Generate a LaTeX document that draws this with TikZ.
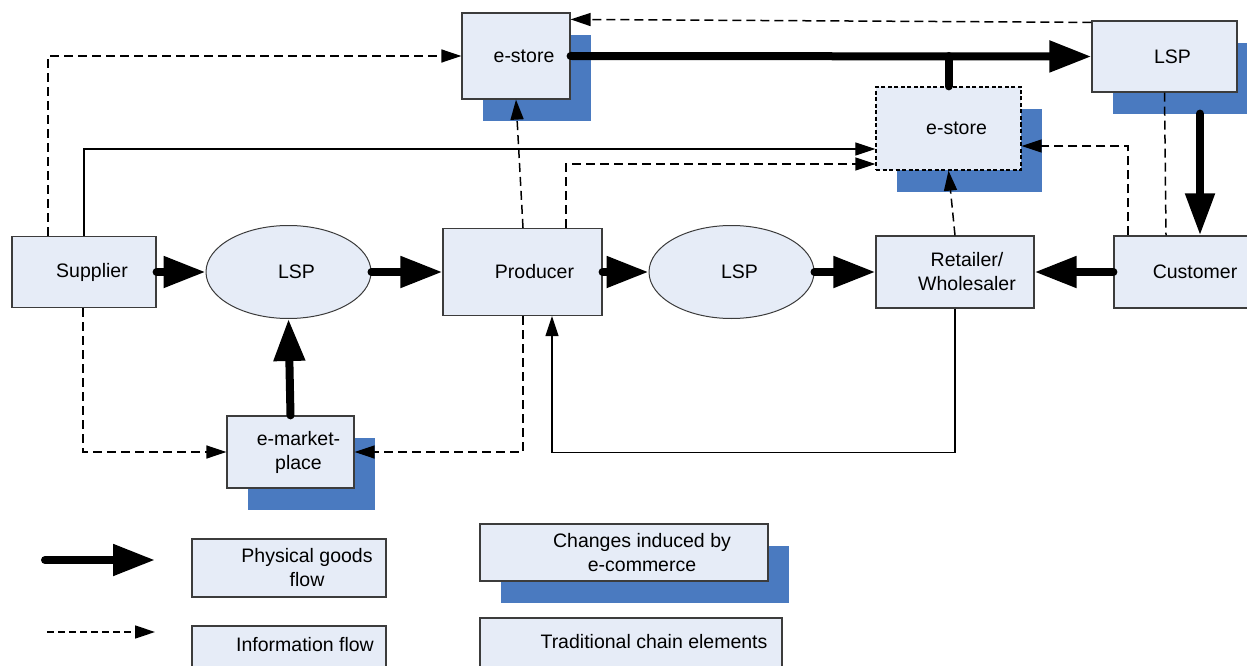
\documentclass[tikz,border=0pt]{standalone}
\usepackage{fontspec}
\setmainfont{Liberation Sans}
\usetikzlibrary{arrows.meta,shapes.geometric,shadows,calc}
\definecolor{boxfill}{RGB}{230,236,247}
\definecolor{shadowblue}{RGB}{74,122,192}
\definecolor{boxline}{RGB}{60,60,60}
\begin{document}
\begin{tikzpicture}[x=1pt,y=-1pt,
  every node/.style={font=\fontsize{19.5pt}{24pt}\selectfont},
  box/.style={draw=boxline, fill=boxfill, line width=1.2pt, inner sep=0pt},
  sz/.style 2 args={minimum width=#1pt, minimum height=#2pt},
  shad/.style={general shadow={fill=shadowblue, shadow xshift=21pt, shadow yshift=-22pt}},
  oval/.style={ellipse, draw=boxline, fill=boxfill, line width=1pt, inner sep=0pt},
  txt/.style={label={[align=center, xshift=8pt]center:#1}},
  phys/.style={line width=8pt, line cap=round, -{Triangle[length=42pt,width=30pt]}},
  physline/.style={line width=8pt, line cap=round},
  info/.style={line width=1.5pt, dash pattern=on 9pt off 5pt, -{Triangle[length=20pt,width=13pt]}},
  infoline/.style={line width=1.5pt, dash pattern=on 9pt off 5pt},
  thinarr/.style={line width=1.2pt, -{Triangle[length=20pt,width=13pt]}}
]
\useasboundingbox (0,0) rectangle (1247,666);
% ---- nodes
\node[box,shad,sz={108}{86},txt=e-store] (es1) at (516,56) {};
\node[box,shad,sz={145}{71},txt=LSP] (lspR) at (1164.5,56.5) {};
\node[box,shad,sz={145}{83},dash pattern=on 4pt off 2.5pt,line width=1.3pt,draw=black,txt=e-store] (es2) at (948.5,128.5) {};
\node[box,sz={144}{71},txt=Supplier] (sup) at (84,272) {};
\node[oval,sz={165}{93},txt=LSP] (lsp1) at (288.5,272) {};
\node[box,sz={159}{87},label={[xshift=12pt]center:Producer}] (prod) at (522.5,272) {};
\node[oval,sz={165}{93},txt=LSP] (lsp2) at (731.5,272) {};
\node[box,sz={158}{72},label={[align=center,xshift=12pt]center:Retailer/\\Wholesaler}] (ret) at (955,272) {};
\node[box,sz={146}{72},txt=Customer] (cust) at (1187,272) {};
\node[box,shad,sz={127}{72},txt={e-market-\\place}] (emkt) at (290.5,452) {};
% ---- legend
\node[box,sz={194}{58},label={[align=center,xshift=18pt]center:Physical goods\\flow}] (lgP) at (289,568) {};
\node[box,sz={194}{58},label={[xshift=16pt,yshift=10pt]center:Information flow}] (lgI) at (289,655) {};
\node[box,shad,sz={288}{57},label={[align=center,xshift=18pt]center:Changes induced by\\e-commerce}] (lgC) at (624,552.5) {};
\node[box,sz={302}{58},label={[xshift=23pt,yshift=5pt]center:Traditional chain elements}] (lgT) at (631,647) {};
\coordinate (lgA1) at (45,560);
\coordinate (lgA2) at (155,560);
\coordinate (lgB1) at (47,632);
\coordinate (lgB2) at (155,632);
% ---- information and thin connectors
\draw[info] ([xshift=-36pt]sup.north) |- (es1.west);
\draw[thinarr] (sup.north) |- ([yshift=-20.5pt]es2.west);
\draw[info] ([xshift=43.5pt]prod.north) |- ([yshift=-35.5pt]es2.west);
\draw[info] ([xshift=0.5pt]prod.north) -- (es1.south);
\draw[info] (ret.north) -- (es2.south);
\draw[info] ([xshift=-59pt]cust.north) |- ([yshift=-17.5pt]es2.east);
\draw[infoline] (lspR.south) -- ([xshift=-21pt]cust.north);
\draw[info] ([xshift=-1pt]sup.south) |- (emkt.west);
\draw[info] ([xshift=0.5pt]prod.south) |- (emkt.east);
\draw[thinarr] (ret.south) -- ++(0,144) -| ([xshift=29.5pt]prod.south);
\draw[info] ([yshift=-2pt]lspR.north west) -- ([yshift=-7pt]es1.north east);
% ---- physical goods flows
\draw[phys] (sup.east) -- (lsp1.west);
\draw[phys] (lsp1.east) -- (prod.west);
\draw[phys] (prod.east) -- (lsp2.west);
\draw[phys] (lsp2.east) -- (ret.west);
\draw[phys] (cust.west) -- (ret.east);
\draw[phys] (es1.east) -- (lspR.west);
\draw[physline] (es2.north) -- (es2.north |- es1.east);
\draw[line width=8pt, line cap=round, -{Triangle[length=42pt,width=28pt]}] ([xshift=35.5pt,yshift=-21pt]lspR.south) -- ([xshift=13pt]cust.north);
\draw[phys] (emkt.north) -- (lsp1.south);
% ---- legend arrows
\draw[phys] (lgA1) -- (lgA2);
\draw[info, dash pattern=on 7pt off 4pt] (lgB1) -- (lgB2);
\end{tikzpicture}
\end{document}
